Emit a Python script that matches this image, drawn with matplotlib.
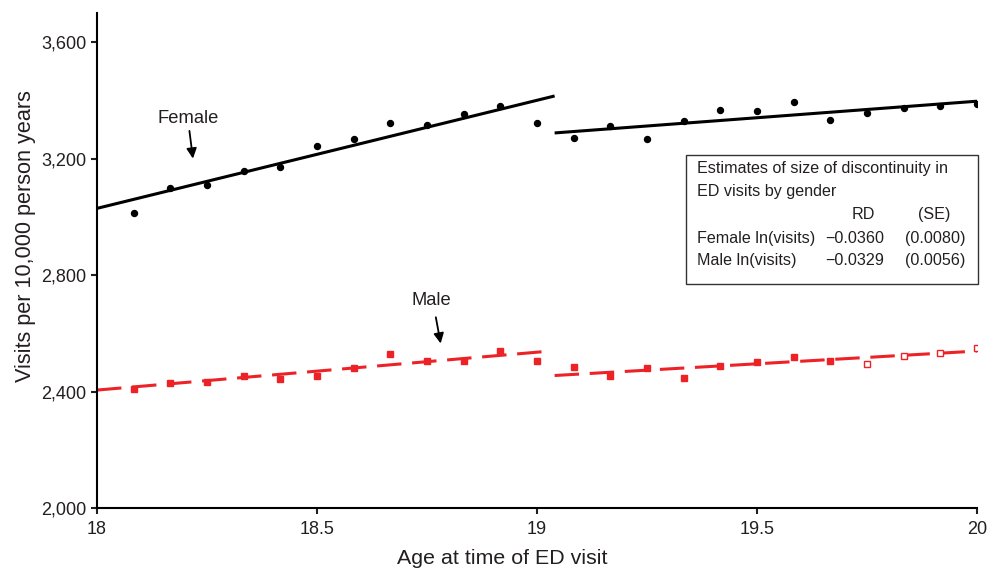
import matplotlib.pyplot as plt
from matplotlib.patches import Rectangle
from matplotlib.ticker import FuncFormatter

plt.rcParams['font.family'] = ['Liberation Sans', 'DejaVu Sans']

# monthly bins, ages in years
age_left = [18 + k / 12 for k in range(1, 13)]
age_right = [19 + k / 12 for k in range(1, 13)]

female_left = [3014, 3100, 3110, 3158, 3170, 3242, 3268, 3323, 3315, 3354, 3380, 3321]
female_right = [3270, 3312, 3268, 3328, 3366, 3362, 3393, 3332, 3357, 3373, 3381, 3386]
male_left = [2408, 2428, 2434, 2453, 2442, 2455, 2482, 2528, 2504, 2506, 2539, 2506]
male_right = [2484, 2452, 2482, 2447, 2488, 2502, 2518, 2505, 2495, 2522, 2532, 2549]

# fitted lines (end points)
female_fit_left_x, female_fit_left_y = [18, 19.04], [3029, 3415]
female_fit_right_x, female_fit_right_y = [19.04, 20], [3288, 3397]
male_fit_left_x, male_fit_left_y = [18, 19.015], [2405, 2537]
male_fit_right_x, male_fit_right_y = [19.04, 20], [2455, 2539]

red = '#ed2226'
txt = '#231f20'

fig = plt.figure(figsize=(9.89, 5.69), dpi=100)
ax = fig.add_axes([0.0981, 0.1072, 0.8898, 0.8700])

ax.plot(female_fit_left_x, female_fit_left_y, color='black', lw=2.2, solid_capstyle='butt')
ax.plot(female_fit_right_x, female_fit_right_y, color='black', lw=2.2, solid_capstyle='butt')
ax.plot(age_left, female_left, 'o', color='black', ms=4.3, ls='none')
ax.plot(age_right, female_right, 'o', color='black', ms=4.3, ls='none')

ax.plot(male_fit_left_x, male_fit_left_y, color=red, lw=2.2, dashes=(8, 3.5), dash_capstyle='butt')
ax.plot(male_fit_right_x, male_fit_right_y, color=red, lw=2.2, dashes=(8, 3.5), dash_capstyle='butt')
ax.plot(age_left, male_left, 's', color=red, ms=4.3, ls='none')
ax.plot(age_right[:8], male_right[:8], 's', color=red, ms=4.3, ls='none')
ax.plot(age_right[8:], male_right[8:], 's', mfc='white', mec=red, mew=1.0, ms=4.3, ls='none')

ax.set_xlim(18, 20)
ax.set_ylim(2000, 3700)
ax.set_xticks([18, 18.5, 19, 19.5, 20])
ax.set_xticklabels(['18', '18.5', '19', '19.5', '20'])
ax.set_yticks([2000, 2400, 2800, 3200, 3600])
ax.yaxis.set_major_formatter(FuncFormatter(lambda v, p: f'{int(v):,}'))
for s in ['top', 'right']:
    ax.spines[s].set_visible(False)
for s in ['left', 'bottom']:
    ax.spines[s].set_linewidth(1.5)
ax.tick_params(direction='out', length=4, width=1.5, labelsize=13, colors=txt, labelcolor=txt)
ax.tick_params(axis='x', pad=5)
ax.set_xlabel('Age at time of ED visit', fontsize=15.4, color=txt)
ax.set_ylabel('Visits per 10,000 person years', fontsize=15.6, color=txt)
ax.xaxis.set_label_coords(0.46, -0.083)
ax.yaxis.set_label_coords(-0.069, 0.55)

arrow = dict(arrowstyle='-|>', color='black', lw=1.3, mutation_scale=15, shrinkA=0, shrinkB=0)
ax.text(18.208, 3339, 'Female', fontsize=13.2, color=txt, ha='center', va='center')
ax.annotate('', xy=(18.218, 3200), xytext=(18.210, 3295), arrowprops=arrow)
ax.text(18.761, 2714, 'Male', fontsize=13.2, color=txt, ha='center', va='center')
ax.annotate('', xy=(18.781, 2565), xytext=(18.770, 2655), arrowprops=arrow)

# estimates box
ax.add_patch(Rectangle((19.339, 2769), 0.663, 443, fill=False, ec='#333333', lw=1.0, clip_on=False))
fs = 11.6
ax.text(19.364, 3167, 'Estimates of size of discontinuity in', fontsize=fs, color=txt, va='center')
ax.text(19.364, 3088, 'ED visits by gender', fontsize=fs, color=txt, va='center')
ax.text(19.742, 3007, 'RD', fontsize=fs, color=txt, va='center', ha='center')
ax.text(19.903, 3007, '(SE)', fontsize=fs, color=txt, va='center', ha='center')
ax.text(19.364, 2926, 'Female ln(visits)', fontsize=fs, color=txt, va='center')
ax.text(19.364, 2851, 'Male ln(visits)', fontsize=fs, color=txt, va='center')
ax.text(19.789, 2926, '\u22120.0360', fontsize=fs, color=txt, va='center', ha='right')
ax.text(19.789, 2851, '\u22120.0329', fontsize=fs, color=txt, va='center', ha='right')
ax.text(19.905, 2926, '(0.0080)', fontsize=fs, color=txt, va='center', ha='center')
ax.text(19.905, 2851, '(0.0056)', fontsize=fs, color=txt, va='center', ha='center')

fig.savefig('out.png', dpi=100)
